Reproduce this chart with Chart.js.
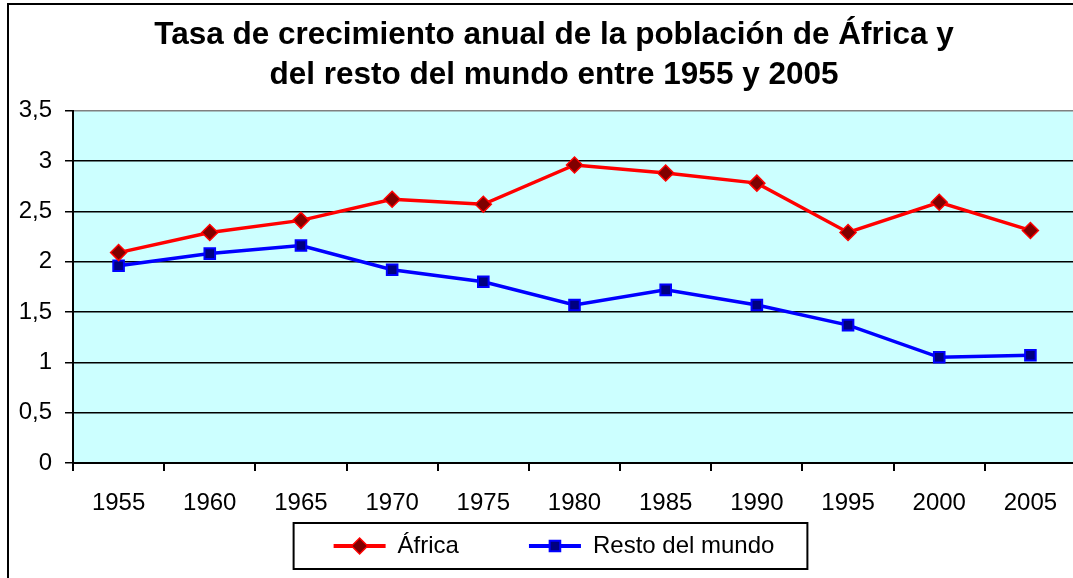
<!DOCTYPE html>
<html><head><meta charset="utf-8">
<script src="https://cdn.jsdelivr.net/npm/chart.js@4.4.1/dist/chart.umd.min.js"></script>
<style>html,body{margin:0;padding:0;overflow:hidden;background:#fff;width:1073px;height:578px}canvas{display:block}</style>
</head><body>
<canvas id="c" width="1100" height="578" style="width:1100px;height:578px"></canvas>
<script>
const titleLines = ['Tasa de crecimiento anual de la población de África y', 'del resto del mundo entre 1955 y 2005'];
const categories = ['1955','1960','1965','1970','1975','1980','1985','1990','1995','2000','2005'];
const africa = [2.09, 2.29, 2.41, 2.62, 2.57, 2.96, 2.88, 2.78, 2.29, 2.59, 2.31];
const restoMundo = [1.96, 2.08, 2.16, 1.92, 1.80, 1.57, 1.72, 1.57, 1.37, 1.05, 1.07];
const seriesNames = ['África', 'Resto del mundo'];
const yMin = 0, yMax = 3.5, yStep = 0.5;

const FONT = "'Liberation Sans', Arial, sans-serif";

const framePlugin = {
  id: 'frame',
  beforeDraw(chart) {
    // let the category labels draw below the (thin) x-axis box
    if (chart.scales.x) chart.scales.x._computeLabelArea = () => null;
    const {ctx, chartArea: a} = chart;
    ctx.save();
    ctx.fillStyle = '#fff';
    ctx.fillRect(0, 0, chart.width, chart.height);
    ctx.fillStyle = '#CCFFFF';
    ctx.fillRect(a.left, a.top, a.right - a.left, a.bottom - a.top);
    ctx.strokeStyle = '#000';
    ctx.lineWidth = 2;
    ctx.strokeRect(8, 4, chart.width - 16, chart.height + 20);
    ctx.restore();
  },
  afterDraw(chart) {
    const {ctx} = chart;
    const lg = chart.legend;
    const hbs = lg.legendHitBoxes;
    if (!hbs || !hbs.length) return;
    const fs = 24;
    ctx.save();
    const first = hbs[0], last = hbs[hbs.length - 1];
    const cy = first.top + fs / 2;
    ctx.strokeStyle = '#000';
    ctx.lineWidth = 2;
    ctx.strokeRect(first.left - 40, cy - 23, (last.left + last.width + 33) - (first.left - 40), 46);
    hbs.forEach((hb, i) => {
      const ds = chart.data.datasets[i];
      ctx.fillStyle = ds.pointBackgroundColor;
      ctx.strokeStyle = ds.pointBorderColor;
      ctx.lineWidth = ds.pointBorderWidth;
      Chart.helpers.drawPoint(ctx, {pointStyle: ds.pointStyle, radius: ds.pointRadius, borderWidth: ds.pointBorderWidth, rotation: 0}, hb.left + 26, hb.top + fs / 2);
    });
    ctx.restore();
  }
};

new Chart(document.getElementById('c'), {
  type: 'line',
  data: {
    labels: categories,
    datasets: [
      {label: seriesNames[0], data: africa, borderColor: '#FF0000', backgroundColor: '#800000', borderWidth: 3.5,
       pointStyle: 'rectRot', pointRadius: 8, pointBorderWidth: 1.5, pointBackgroundColor: '#800000', pointBorderColor: '#FF0000', tension: 0},
      {label: seriesNames[1], data: restoMundo, borderColor: '#0000FF', backgroundColor: '#000080', borderWidth: 3.5,
       pointStyle: 'rect', pointRadius: 7.5, pointBorderWidth: 2, pointBackgroundColor: '#000080', pointBorderColor: '#0000FF', tension: 0}
    ]
  },
  options: {
    responsive: false,
    animation: false,
    layout: {padding: {left: 8, right: 0, top: 0, bottom: 10}},
    plugins: {
      tooltip: {enabled: false},
      title: {
        display: true, text: titleLines, color: '#000',
        font: {family: FONT, size: 31.5, weight: 'bold', lineHeight: 1.28},
        padding: {top: 15, bottom: 15}
      },
      legend: {
        position: 'bottom',
        labels: {
          color: '#000', font: {family: FONT, size: 24},
          boxWidth: 52, boxHeight: 4, padding: 70,
          generateLabels: chart => chart.data.datasets.map((ds, i) => ({
            text: ds.label, fillStyle: ds.borderColor, strokeStyle: ds.borderColor, lineWidth: 0,
            hidden: false, datasetIndex: i, fontColor: '#000'
          }))
        }
      }
    },
    scales: {
      x: {
        offset: true,
        grid: {offset: true, drawOnChartArea: false, drawTicks: true, tickLength: 8, color: '#000', lineWidth: 2},
        border: {display: true, color: '#000', width: 2},
        ticks: {color: '#000', font: {family: FONT, size: 24}, padding: 18, maxRotation: 0, autoSkip: false},
        afterFit(s) { s.height = 1; }
      },
      y: {
        min: yMin, max: yMax,
        ticks: {stepSize: yStep, color: '#000', font: {family: FONT, size: 24}, padding: 13,
                callback: v => String(v).replace('.', ',')},
        grid: {color: ctx => (ctx.tick && ctx.tick.value === yMax) ? '#808080' : '#000', tickColor: '#000', lineWidth: 1.5, tickLength: 8},
        border: {display: true, color: '#000', width: 2},
        afterFit(s) { s.width = 65; }
      },
      yR: {
        position: 'right', display: true,
        grid: {display: false}, ticks: {display: false}, border: {display: false},
        afterFit(s) { s.width = 24; }
      }
    }
  },
  plugins: [framePlugin]
});
</script>
</body></html>
